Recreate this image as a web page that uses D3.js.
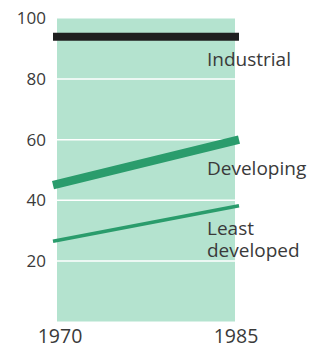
<!DOCTYPE html>
<html>
<head>
<meta charset="utf-8">
<script src="https://cdn.jsdelivr.net/npm/d3@7"></script>
<style>
  html, body { margin: 0; padding: 0; background: #ffffff; }
  svg { display: block; }
  text { font-family: "Open Sans", "Noto Sans", sans-serif; fill: #3a3a3a; }
</style>
</head>
<body>
<div id="chart"></div>
<script>
// ---- data ----
const years = [1970, 1985];
const yTicks = [20, 40, 60, 80, 100];
const gridValues = [20, 40, 60, 80];
const seriesNames = ["Industrial", "Developing", "Least developed"];
const industrial = [94, 94];
const developing = [45, 60];
const leastDeveloped = [26.5, 38.2];

const W = 322, H = 348;
const svg = d3.select("#chart").append("svg").attr("width", W).attr("height", H);

const x = d3.scaleLinear().domain([1970, 1985]).range([57, 235]);
const y = d3.scaleLinear().domain([0, 100]).range([321.5, 18.5]);
const overhang = 4;

// background band
svg.append("rect")
  .attr("x", x(1970)).attr("y", y(100))
  .attr("width", x(1985) - x(1970)).attr("height", y(0) - y(100))
  .attr("fill", "#b4e3cf");

// gridlines
svg.selectAll("line.grid").data(gridValues).join("line")
  .attr("class", "grid")
  .attr("x1", x(1970)).attr("x2", x(1985))
  .attr("y1", d => y(d)).attr("y2", d => y(d))
  .attr("stroke", "#ffffff").attr("stroke-width", 1.5);

// y axis labels
const yAxis = d3.axisLeft(y).tickValues(yTicks).tickSize(0).tickPadding(0);
const gy = svg.append("g").attr("transform", `translate(${x(1970) - 11},0)`).call(yAxis);
gy.select(".domain").remove();
gy.selectAll("text").attr("font-size", 17).attr("fill", "#3a3a3a")
  .style("font-family", '"Open Sans", "Noto Sans", sans-serif');

// x axis labels
const gx = svg.append("g");
gx.selectAll("text").data(years).join("text")
  .attr("x", d => x(d) + (d === 1970 ? 3 : 1))
  .attr("y", 343)
  .attr("text-anchor", "middle")
  .attr("font-size", 19.5)
  .text(d => d);

// lines
const series = [
  { name: "Industrial", values: industrial, color: "#1f1f1f", width: 8 },
  { name: "Developing", values: developing, color: "#2a9c6c", width: 8.5 },
  { name: "Least developed", values: leastDeveloped, color: "#2a9c6c", width: 3.5 }
];
const line = d3.line()
  .x((d, i) => x(years[i]) + (i === 0 ? -overhang : overhang))
  .y(d => y(d));
svg.selectAll("path.series").data(series).join("path")
  .attr("class", "series")
  .attr("d", d => line(d.values))
  .attr("fill", "none")
  .attr("stroke", d => d.color)
  .attr("stroke-width", d => d.width);

// series labels
const labelX = 207;
svg.append("text").attr("x", labelX).attr("y", y(84.2)).attr("font-size", 19).text(seriesNames[0]);
svg.append("text").attr("x", labelX).attr("y", y(48.3)).attr("font-size", 19).text(seriesNames[1]);
svg.append("text").attr("x", labelX).attr("y", y(28.7)).attr("font-size", 19).text("Least");
svg.append("text").attr("x", labelX).attr("y", y(28.7) + 22).attr("font-size", 19).text("developed");
</script>
</body>
</html>
